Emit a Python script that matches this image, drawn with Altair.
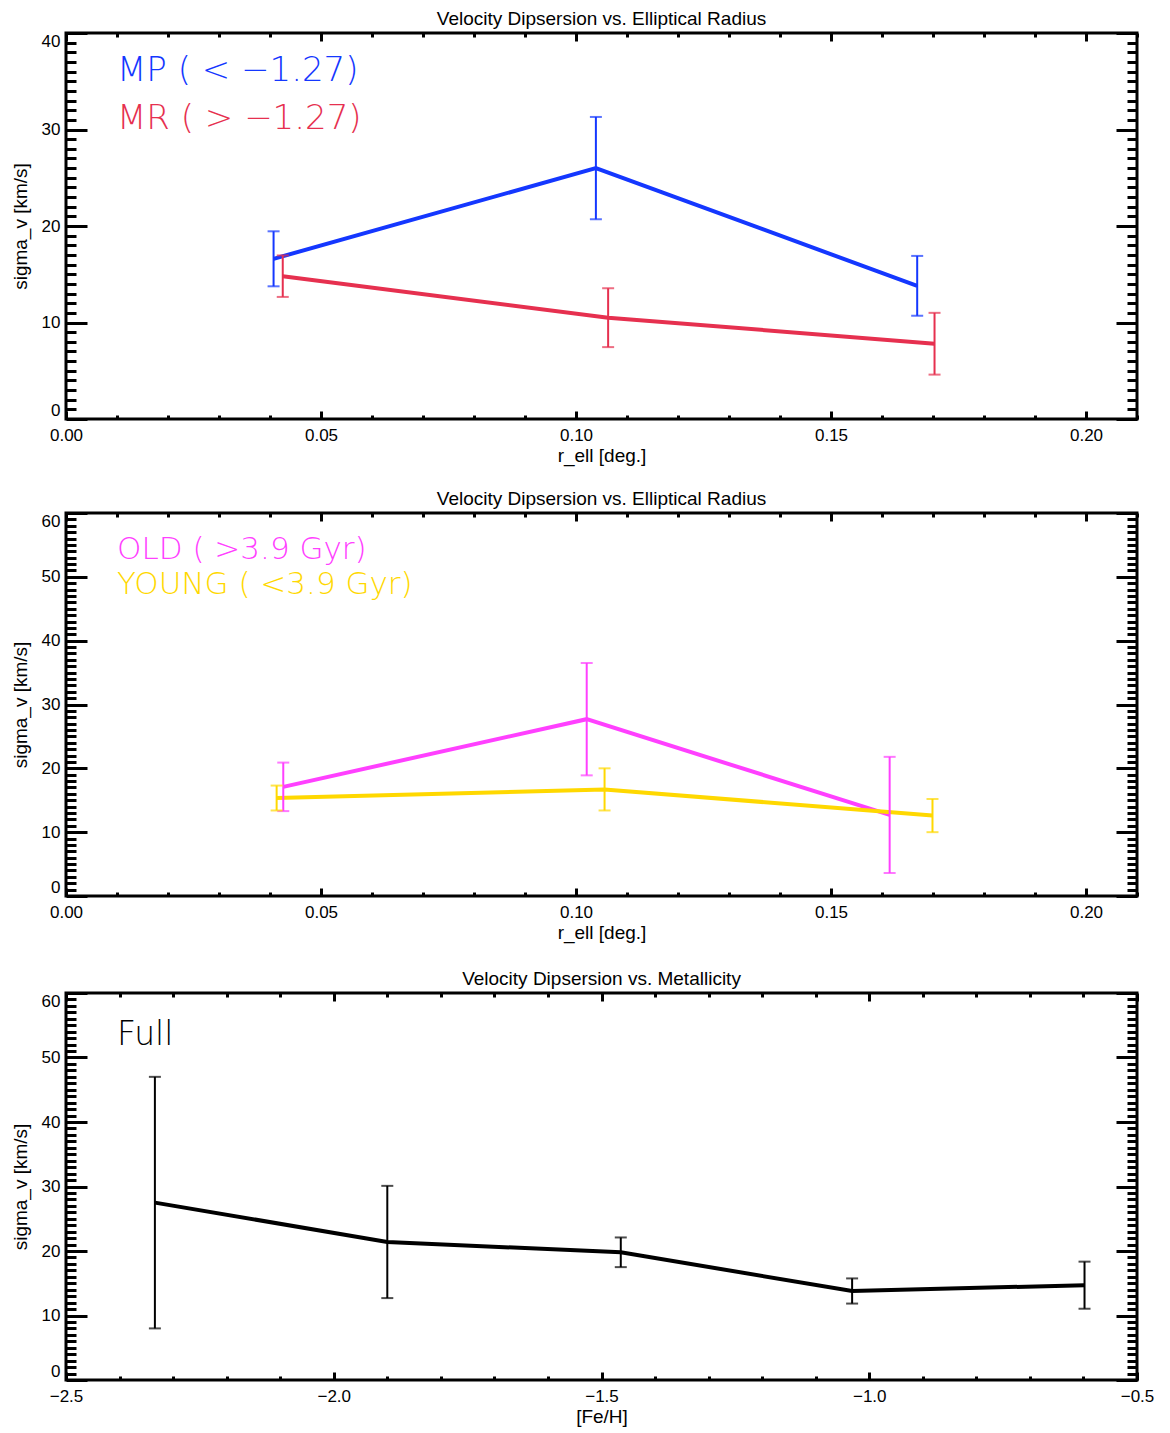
import altair as alt
import pandas as pd
import numpy as np

# ---------------- data ----------------
# Panel 1: metallicity split
mp_r = [0.0407, 0.1039, 0.1669]
mp_sig = [16.6, 26.0, 13.8]
mp_err = [2.85, 5.3, 3.1]
mr_r = [0.0425, 0.1063, 0.1703]
mr_sig = [14.8, 10.5, 7.8]
mr_err = [2.15, 3.05, 3.2]
# Panel 2: age split
old_r = [0.0426, 0.1021, 0.1615]
old_sig = [17.1, 27.7, 12.7]
old_err = [3.8, 8.8, 9.1]
young_r = [0.0413, 0.1056, 0.1699]
young_sig = [15.35, 16.7, 12.6]
young_err = [1.95, 3.3, 2.6]
# Panel 3: full sample vs metallicity
feh = [-2.334, -1.90, -1.464, -1.032, -0.598]
full_sig = [27.5, 21.4, 19.8, 13.8, 14.7]
full_err = [19.5, 8.7, 2.3, 1.95, 3.65]

titles = ["Velocity Dipsersion vs. Elliptical Radius",
          "Velocity Dipsersion vs. Elliptical Radius",
          "Velocity Dipsersion vs. Metallicity"]
xtitles = ["r_ell [deg.]", "r_ell [deg.]", "[Fe/H]"]
ytitle = "sigma_v [km/s]"
labels1 = ["MP ( < \u22121.27)", "MR ( > \u22121.27)"]
labels2 = ["OLD ( >3.9 Gyr)", "YOUNG ( <3.9 Gyr)"]
labels3 = ["Full"]

# tick values
r_major = [0.0, 0.05, 0.10, 0.15, 0.20]
r_minor = [round(v, 2) for v in np.arange(0.01, 0.211, 0.01) if round(v, 2) not in r_major]
f_major = [-2.5, -2.0, -1.5, -1.0, -0.5]
f_minor = [round(v, 1) for v in np.arange(-2.4, -0.55, 0.1) if round(v, 1) not in f_major]
y40_major = [0, 10, 20, 30, 40]
y40_minor = [v for v in range(1, 40) if v % 10]
y60_major = [0, 10, 20, 30, 40, 50, 60]
y60_minor = [v for v in range(1, 60) if v % 10]

BLUE = "#1437ff"
RED = "#e6304f"
MAG = "#ff40ff"
YEL = "#ffd800"

FONT = "Liberation Sans"
TXTFONT = "DejaVu Sans"


def frame(names, xs, ys, es):
    rows = []
    for n, xv, yv, ev in zip(names, xs, ys, es):
        for a, b, c in zip(xv, yv, ev):
            rows.append({"s": n, "x": a, "y": b, "lo": b - c, "hi": b + c})
    return pd.DataFrame(rows)


def panel(df, names, colors, xdom, ydom, xmaj, xmin, ymaj, ymin, xfmt,
          title, xtitle, texts, tcolors, tys, tsize, height, lw=4):
    xs = alt.Scale(domain=xdom, nice=False, zero=False)
    ys = alt.Scale(domain=ydom, nice=False, zero=False)
    cs = alt.Scale(domain=names, range=colors)

    xlab = alt.Axis(orient="bottom", values=xmaj, format=xfmt, ticks=False,
                    domain=False, grid=False, labelFlush=False, labelPadding=8,
                    title=xtitle, titlePadding=3)
    ylab = alt.Axis(orient="left", values=ymaj, format="d", ticks=False,
                    domain=False, grid=False, labelFlush=True, labelPadding=6,
                    title=ytitle, titlePadding=11)

    base = alt.Chart(df)
    line = base.mark_line(strokeWidth=lw).encode(
        x=alt.X("x:Q", scale=xs, axis=xlab),
        y=alt.Y("y:Q", scale=ys, axis=ylab),
        color=alt.Color("s:N", scale=cs, legend=None),
        detail="s:N",
    )
    bars = base.mark_rule(strokeWidth=2).encode(
        x=alt.X("x:Q", scale=xs, axis=None),
        y=alt.Y("lo:Q", scale=ys, axis=None),
        y2="hi:Q",
        color=alt.Color("s:N", scale=cs, legend=None),
    )
    cap_lo = base.mark_tick(orient="horizontal", size=12, thickness=2).encode(
        x=alt.X("x:Q", scale=xs, axis=None),
        y=alt.Y("lo:Q", scale=ys, axis=None),
        color=alt.Color("s:N", scale=cs, legend=None),
    )
    cap_hi = base.mark_tick(orient="horizontal", size=12, thickness=2).encode(
        x=alt.X("x:Q", scale=xs, axis=None),
        y=alt.Y("hi:Q", scale=ys, axis=None),
        color=alt.Color("s:N", scale=cs, legend=None),
    )

    def ticks(xv, yv, xsize, ysize, xo, yo):
        return base.mark_point(opacity=0).encode(
            x=alt.X("x:Q", scale=xs, axis=alt.Axis(
                orient=xo, values=xv, labels=False, domain=False, grid=False,
                ticks=True, tickSize=xsize, tickWidth=3, tickColor="black",
                offset=-xsize, title=None)),
            y=alt.Y("y:Q", scale=ys, axis=alt.Axis(
                orient=yo, values=yv, labels=False, domain=False, grid=False,
                ticks=True, tickSize=ysize, tickWidth=3, tickColor="black",
                offset=-ysize, title=None)),
        )

    tk = [ticks(xmaj, ymaj, 8, 21, "bottom", "left"),
          ticks(xmaj, ymaj, 8, 21, "top", "right"),
          ticks(xmin, ymin, 4, 10, "bottom", "left"),
          ticks(xmin, ymin, 4, 10, "top", "right")]

    tl = []
    one = pd.DataFrame({"k": [0]})
    for t, c, ty in zip(texts, tcolors, tys):
        tl.append(alt.Chart(one).mark_text(
            align="left", baseline="middle", font=TXTFONT, fontWeight=200,
            fontSize=tsize, color=c).encode(
            x=alt.value(51), y=alt.value(ty), text=alt.value(t)))

    ch = alt.layer(line, bars, cap_lo, cap_hi, *tk, *tl).resolve_axis(
        x="independent", y="independent"
    ).properties(
        width=1071, height=height,
        title=alt.TitleParams(title, fontSize=19, font=FONT, fontWeight="normal",
                              offset=3, anchor="middle"),
    )
    return ch


df1 = frame(["MP", "MR"], [mp_r, mr_r], [mp_sig, mr_sig], [mp_err, mr_err])
df2 = frame(["OLD", "YOUNG"], [old_r, young_r], [old_sig, young_sig], [old_err, young_err])
df3 = frame(["Full"], [feh], [full_sig], [full_err])

p1 = panel(df1, ["MP", "MR"], [BLUE, RED], [0, 0.21], [0, 40], r_major, r_minor,
           y40_major, y40_minor, ".2f", titles[0], xtitles[0], labels1,
           [BLUE, RED], [38, 86], 34, 386)
p2 = panel(df2, ["OLD", "YOUNG"], [MAG, YEL], [0, 0.21], [0, 60], r_major, r_minor,
           y60_major, y60_minor, ".2f", titles[1], xtitles[1], labels2,
           [MAG, YEL], [37, 72], 31, 383)
p3 = panel(df3, ["Full"], ["black"], [-2.5, -0.5], [0, 60], f_major, f_minor,
           y60_major, y60_minor, ".1f", titles[2], xtitles[2], labels3,
           ["black"], [42], 33, 387)

top = alt.vconcat(p1, p2, spacing=21).resolve_scale(color="independent")
chart = alt.vconcat(top, p3, spacing=24).resolve_scale(color="independent").properties(
    padding={"left": 1, "top": 0, "right": 5, "bottom": 0}
).configure_view(stroke="black", strokeWidth=3).configure_axis(
    labelFont=FONT, labelFontSize=17, labelColor="black",
    titleFont=FONT, titleFontSize=19, titleFontWeight="normal", titleColor="black",
)

chart.save("out.html", embed_options={"renderer": "svg", "actions": False})
